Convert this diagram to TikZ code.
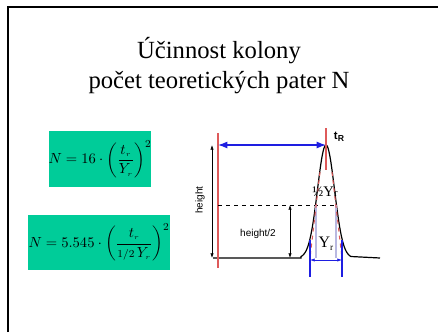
\documentclass[tikz,border=0pt]{standalone}
\usepackage{amsmath}
\usepackage{fontspec}
\setmainfont{Liberation Serif}
\setsansfont{Liberation Sans}
\usetikzlibrary{arrows.meta, positioning, calc}

\definecolor{boxgreen}{RGB}{0,204,153}
\definecolor{markred}{RGB}{222,90,90}
\definecolor{markblue}{RGB}{30,30,225}
\definecolor{halfgray}{RGB}{185,185,225}

\tikzset{
  formulabox/.style={fill=boxgreen, inner sep=0pt, font=\fontsize{11}{13}\selectfont},
  axislabel/.style={font=\sffamily\fontsize{7.5}{9}\selectfont},
  ticks/.style={{Latex[length=3.5pt,width=2.5pt]}-{Latex[length=3.5pt,width=2.5pt]}},
}

\begin{document}
\begin{tikzpicture}[x=0.75pt, y=-0.75pt, >=Latex, thick]
        \useasboundingbox (0,0) rectangle (438,332);
        % frame of the slide
        \draw[line width=2.2pt] (8,332) -- (8,7) -- (438,7);

        % title
        \node (title1) [anchor=base, font=\fontsize{18.5}{22}\selectfont] at (219,58) {Účinnost kolony};
        \node (title2) [anchor=base, font=\fontsize{18.5}{22}\selectfont] at (219,88) {počet teoretických pater N};

        % formulas
        \node (eqA) [formulabox, minimum width=76.5pt, minimum height=42pt] at (100,159)
            {$N = 16\cdot\left(\dfrac{t_{\scriptscriptstyle r}}{Y_{\scriptscriptstyle r}}\right)^{2}$};
        \node (eqB) [formulabox, minimum width=106.5pt, minimum height=41.25pt] at (99,242.5)
            {$N = 5.545\cdot\left(\dfrac{t_{\scriptscriptstyle r}}{{\scriptstyle 1/2}\,Y_{\scriptscriptstyle r}}\right)^{2}$};

        % points of the chromatogram
        \coordinate (inj) at (218,145);
        \coordinate (top) at (326,145);
        \coordinate (hTop) at (212,145);
        \coordinate (hBot) at (212,258);
        \coordinate (halfTop) at (290,205);
        \coordinate (halfBot) at (290,258);
        \coordinate (wL) at (310,260);
        \coordinate (wR) at (342,260);

        % peak
        \draw[line width=0.9pt] (213,258) -- (301,258)
            -- plot[domain=301:351, samples=80, smooth] (\x,{258-113*exp(-((\x-326)^2)/144.5)})
            -- (380,258);

        % markers
        \draw[markred, line width=1pt] (218,133) -- (218,268);
        \draw[markred, line width=1pt] (326,128) -- (326,170);
        \draw[markblue, line width=0.9pt, <->] (inj) -- (top);

        % height
        \draw[ticks, line width=0.5pt] (hTop) -- (hBot);
        \node (hLab) [axislabel, rotate=90] at (200,200) {height};
        \draw[dashed, line width=0.6pt] (218,205) -- (337,205);
        \draw[ticks, line width=0.5pt] (halfTop) -- (halfBot);
        \node (h2Lab) [axislabel] at (258,234) {height/2};

        % widths
        \draw[halfgray, line width=0.8pt] (316,205) -- (316,258);
        \draw[halfgray, line width=0.8pt] (336,205) -- (336,258);
        \draw[markred, dashed, line width=0.8pt] (320,172) -- (310,258);
        \draw[markred, dashed, line width=0.8pt] (332,172) -- (342,258);
        \draw[markblue, line width=0.8pt] (310,240) -- (310,277);
        \draw[markblue, line width=0.8pt] (342,240) -- (342,277);
        \draw[ticks, markblue, line width=0.6pt] (wL) -- (wR);

        % labels
        \node (tR) [font=\sffamily\bfseries\fontsize{8.5}{10}\selectfont] at (339,137) {t\raisebox{-0.35ex}{\fontsize{6.5}{7}\selectfont R}};
        \node (halfY) [font=\fontsize{11}{13}\selectfont, inner sep=0pt] at (325,192) {½Y{\fontsize{8}{9}\selectfont r}};
        \node (Yr) [font=\fontsize{12}{14}\selectfont, inner sep=0pt] at (326,244) {Y\raisebox{-0.4ex}{\fontsize{7}{8}\selectfont r}};
\end{tikzpicture}
\end{document}
